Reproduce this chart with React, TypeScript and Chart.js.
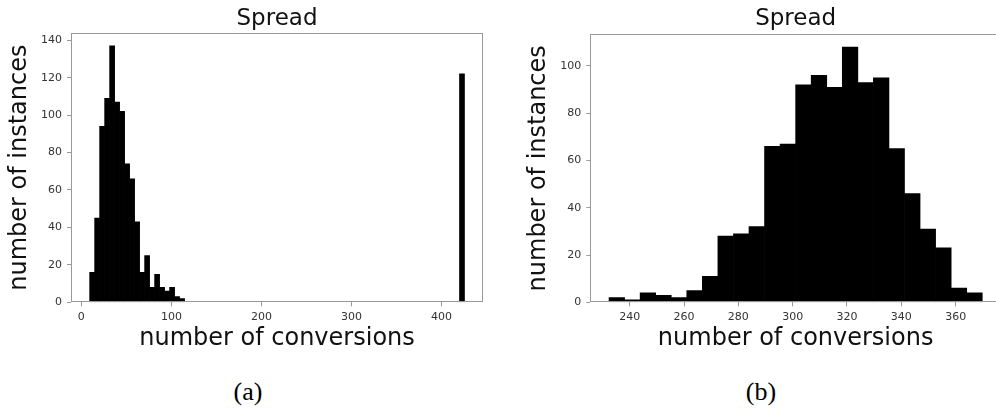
import React, { useEffect, useRef } from "react";
import { Chart, registerables } from "chart.js";

Chart.register(...registerables);

// ---------- data ----------
const chartTitle = "Spread";
const xAxisLabel = "number of conversions";
const yAxisLabel = "number of instances";
const captions = ["(a)", "(b)"];

// (a) histogram: 75 equal bins starting at 9.2, width 5.55; only non-empty bins listed
const leftBinStart = 9.2;
const leftBinWidth = 5.55;
const leftBinIndex = [0, 1, 2, 3, 4, 5, 6, 7, 8, 9, 10, 11, 12, 13, 14, 15, 16, 17, 18, 74];
const leftCounts = [16, 45, 94, 109, 137, 107, 102, 74, 66, 43, 16, 25, 8, 15, 8, 6, 8, 3, 2, 122];
const leftXTicks = [0, 100, 200, 300, 400];
const leftYTicks = [0, 20, 40, 60, 80, 100, 120, 140];
const leftXRange = [-11.5, 446];
const leftYMax = 143.85;

// (b) histogram: 24 equal bins starting at 232.4, width 5.725
const rightBinStart = 232.4;
const rightBinWidth = 5.725;
const rightCounts = [2, 1, 4, 3, 2, 5, 11, 28, 29, 32, 66, 67, 92, 96, 91, 108, 93, 95, 65, 46, 31, 23, 6, 4];
const rightXTicks = [240, 260, 280, 300, 320, 340, 360];
const rightYTicks = [0, 20, 40, 60, 80, 100];
const rightXRange = [225.5, 376.7];
const rightYMax = 113.4;

// ---------- styling ----------
const FONT = "'DejaVu Sans', sans-serif";
const SPINE = "#999999";

const framePlugin = {
  id: "frame",
  afterDatasetsDraw(chart: any) {
    const { ctx, chartArea: a } = chart;
    ctx.save();
    ctx.strokeStyle = SPINE;
    ctx.lineWidth = 1;
    const l = Math.round(a.left) + 0.5;
    const t = Math.round(a.top) + 0.5;
    const r = Math.round(a.right) - 0.5;
    const b = Math.round(a.bottom) - 0.5;
    ctx.strokeRect(l, t, r - l, b - t);
    ctx.restore();
  },
};

type Spec = {
  left: number;
  width: number;
  height: number;
  padRight: number;
  yAxisWidth: number;
  xAxisHeight: number;
  titlePadBottom: number;
  points: { x: number; y: number }[];
  xRange: number[];
  yMax: number;
  xTicks: number[];
  yTicks: number[];
};

function Hist({ spec }: { spec: Spec }) {
  const ref = useRef<HTMLCanvasElement>(null);
  useEffect(() => {
    if (!ref.current) return;
    const chart = new Chart(ref.current, {
      type: "bar",
      data: {
        datasets: [
          {
            data: spec.points as any,
            backgroundColor: "#000000",
            borderWidth: 0,
            barPercentage: 1,
            categoryPercentage: 1,
          },
        ],
      },
      options: {
        responsive: false,
        animation: false,
        devicePixelRatio: 1,
        layout: { padding: { left: 0, right: spec.padRight, top: 0, bottom: 0 } },
        plugins: {
          legend: { display: false },
          tooltip: { enabled: false },
          title: {
            display: true,
            text: chartTitle,
            fullSize: false,
            color: "#111111",
            font: { family: FONT, size: 23, weight: "normal", lineHeight: 1 },
            padding: { top: 7.2, bottom: spec.titlePadBottom },
          },
        },
        scales: {
          x: {
            type: "linear",
            min: spec.xRange[0],
            max: spec.xRange[1],
            offset: false,
            grid: {
              display: true,
              offset: false,
              drawOnChartArea: false,
              drawTicks: true,
              tickLength: 4,
              tickColor: SPINE,
              tickWidth: 1,
            },
            border: { display: false },
            ticks: {
              font: { family: FONT, size: 11 },
              color: "#333333",
              padding: 4,
              maxRotation: 0,
              autoSkip: false,
            },
            afterBuildTicks: (s: any) => {
              s.ticks = spec.xTicks.map((v) => ({ value: v }));
            },
            afterFit: (s: any) => {
              s.height = spec.xAxisHeight;
            },
            title: {
              display: true,
              text: xAxisLabel,
              color: "#111111",
              font: { family: FONT, size: 24, lineHeight: 1.2 },
              padding: { top: 0, bottom: 7.2 },
            },
          },
          y: {
            type: "linear",
            min: 0,
            max: spec.yMax,
            grid: {
              display: true,
              drawOnChartArea: false,
              drawTicks: true,
              tickLength: 4,
              tickColor: SPINE,
              tickWidth: 1,
            },
            border: { display: false },
            ticks: {
              font: { family: FONT, size: 11 },
              color: "#333333",
              padding: 5,
              autoSkip: false,
            },
            afterBuildTicks: (s: any) => {
              s.ticks = spec.yTicks.map((v) => ({ value: v }));
            },
            afterFit: (s: any) => {
              s.width = spec.yAxisWidth;
            },
            title: {
              display: true,
              text: yAxisLabel,
              color: "#111111",
              font: { family: FONT, size: 24, lineHeight: 1.2 },
              padding: { top: 5.3, bottom: 0 },
            },
          },
        },
      } as any,
      plugins: [framePlugin],
    });
    return () => chart.destroy();
  }, []);
  return (
    <canvas
      ref={ref}
      width={spec.width}
      height={spec.height}
      style={{ position: "absolute", left: spec.left, top: 0, width: spec.width, height: spec.height }}
    />
  );
}

const leftPoints = leftBinIndex.map((bi, i) => ({
  x: leftBinStart + leftBinWidth * (bi + 0.5),
  y: leftCounts[i],
}));
const rightPoints = rightCounts.map((c, i) => ({
  x: rightBinStart + rightBinWidth * (i + 0.5),
  y: c,
}));

const leftSpec: Spec = {
  left: 0,
  width: 496,
  height: 360,
  padRight: 13,
  yAxisWidth: 71,
  xAxisHeight: 57.7,
  titlePadBottom: 2.8,
  points: leftPoints,
  xRange: leftXRange,
  yMax: leftYMax,
  xTicks: leftXTicks,
  yTicks: leftYTicks,
};

const rightSpec: Spec = {
  left: 519,
  width: 487,
  height: 360,
  padRight: 5,
  yAxisWidth: 71.3,
  xAxisHeight: 57.7,
  titlePadBottom: 4.1,
  points: rightPoints,
  xRange: rightXRange,
  yMax: rightYMax,
  xTicks: rightXTicks,
  yTicks: rightYTicks,
};

const captionStyle = (cx: number): React.CSSProperties => ({
  position: "absolute",
  left: cx - 60,
  width: 120,
  top: 377,
  lineHeight: "30px",
  textAlign: "center",
  fontFamily: "'Liberation Serif', 'Times New Roman', serif",
  fontSize: 26,
  color: "#000",
});

export default function App() {
  return (
    <div
      style={{
        position: "absolute",
        left: 0,
        top: 0,
        width: 996,
        height: 410,
        overflow: "hidden",
        background: "#ffffff",
      }}
    >
      <Hist spec={leftSpec} />
      <Hist spec={rightSpec} />
      <div style={captionStyle(248)}>{captions[0]}</div>
      <div style={captionStyle(761)}>{captions[1]}</div>
    </div>
  );
}
